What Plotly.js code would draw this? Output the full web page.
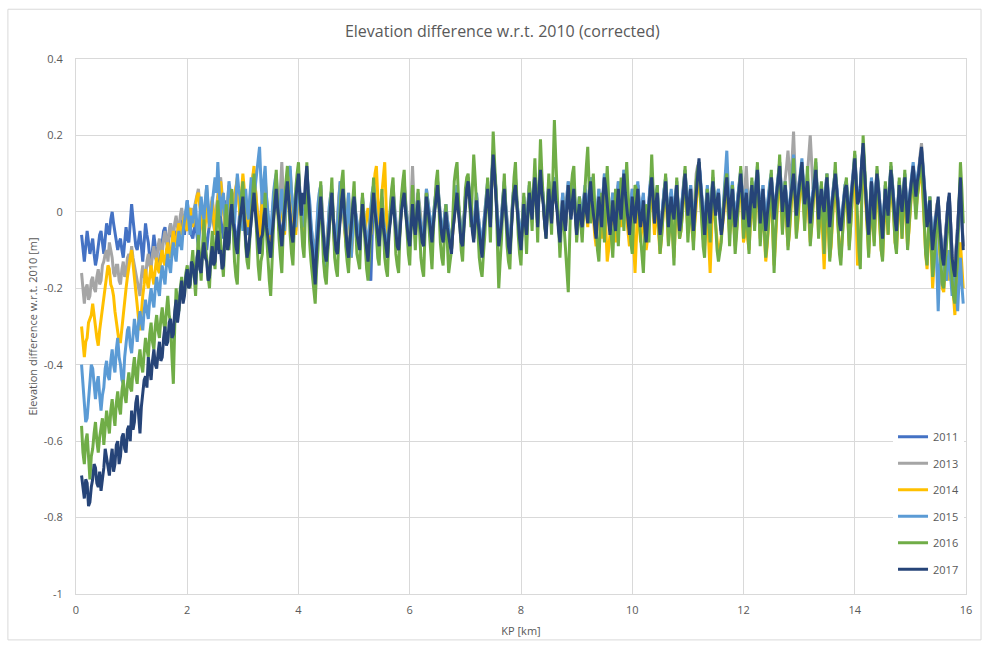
<!DOCTYPE html>
<html>
<head>
<meta charset="utf-8">
<script src="https://cdn.plot.ly/plotly-3.0.1.min.js"></script>
<style>html,body{margin:0;padding:0;background:#fff;}#chart{width:985px;height:648px;}</style>
</head>
<body>
<div id="chart"></div>
<script>
// KP sample positions (km)
var kp = [
0.1,0.15,0.2,0.25,0.3,0.35,0.4,0.45,0.5,0.55,0.6,0.65,0.7,0.75,0.8,0.85,0.9,0.95,1,1.05,
1.1,1.15,1.2,1.25,1.3,1.35,1.4,1.45,1.5,1.55,1.6,1.65,1.7,1.75,1.8,1.85,1.9,1.95,2,2.05,
2.1,2.15,2.2,2.25,2.3,2.35,2.4,2.45,2.5,2.55,2.6,2.65,2.7,2.75,2.8,2.85,2.9,2.95,3,3.05,
3.1,3.15,3.2,3.25,3.3,3.35,3.4,3.45,3.5,3.55,3.6,3.65,3.7,3.75,3.8,3.85,3.9,3.95,4,4.05,
4.1,4.15,4.2,4.25,4.3,4.35,4.4,4.45,4.5,4.55,4.6,4.65,4.7,4.75,4.8,4.85,4.9,4.95,5,5.05,
5.1,5.15,5.2,5.25,5.3,5.35,5.4,5.45,5.5,5.55,5.6,5.65,5.7,5.75,5.8,5.85,5.9,5.95,6,6.05,
6.1,6.15,6.2,6.25,6.3,6.35,6.4,6.45,6.5,6.55,6.6,6.65,6.7,6.75,6.8,6.85,6.9,6.95,7,7.05,
7.1,7.15,7.2,7.25,7.3,7.35,7.4,7.45,7.5,7.55,7.6,7.65,7.7,7.75,7.8,7.85,7.9,7.95,8,8.05,
8.1,8.15,8.2,8.25,8.3,8.35,8.4,8.45,8.5,8.55,8.6,8.65,8.7,8.75,8.8,8.85,8.9,8.95,9,9.05,
9.1,9.15,9.2,9.25,9.3,9.35,9.4,9.45,9.5,9.55,9.6,9.65,9.7,9.75,9.8,9.85,9.9,9.95,10,10.05,
10.1,10.15,10.2,10.25,10.3,10.35,10.4,10.45,10.5,10.55,10.6,10.65,10.7,10.75,10.8,10.85,10.9,10.95,11,11.05,
11.1,11.15,11.2,11.25,11.3,11.35,11.4,11.45,11.5,11.55,11.6,11.65,11.7,11.75,11.8,11.85,11.9,11.95,12,12.05,
12.1,12.15,12.2,12.25,12.3,12.35,12.4,12.45,12.5,12.55,12.6,12.65,12.7,12.75,12.8,12.85,12.9,12.95,13,13.05,
13.1,13.15,13.2,13.25,13.3,13.35,13.4,13.45,13.5,13.55,13.6,13.65,13.7,13.75,13.8,13.85,13.9,13.95,14,14.05,
14.1,14.15,14.2,14.25,14.3,14.35,14.4,14.45,14.5,14.55,14.6,14.65,14.7,14.75,14.8,14.85,14.9,14.95,15,15.05,
15.1,15.15,15.2,15.25,15.3,15.35,15.4,15.45,15.5,15.55,15.6,15.65,15.7,15.75,15.8,15.85,15.9,15.95
];
// intermediate KP sample positions (km)
var kpMid = [
0.125,0.175,0.225,0.275,0.325,0.375,0.425,0.475,0.525,0.575,0.625,0.675,0.725,0.775,0.825,0.875,0.925,0.975,1.025,1.075,
1.125,1.175,1.225,1.275,1.325,1.375,1.425,1.475,1.525,1.575,1.625,1.675,1.725,1.775,1.825,1.875,1.925,1.975,2.025,2.075,
2.125,2.175,2.225,2.275,2.325,2.375,2.425,2.475,2.525,2.575,2.625,2.675,2.725,2.775,2.825,2.875,2.925,2.975,3.025,3.075,
3.125,3.175,3.225,3.275,3.325,3.375,3.425,3.475,3.525,3.575,3.625,3.675,3.725,3.775,3.825,3.875,3.925,3.975,4.025,4.075,
4.125,4.175,4.225,4.275,4.325,4.375,4.425,4.475,4.525,4.575,4.625,4.675,4.725,4.775,4.825,4.875,4.925,4.975,5.025,5.075,
5.125,5.175,5.225,5.275,5.325,5.375,5.425,5.475,5.525,5.575,5.625,5.675,5.725,5.775,5.825,5.875,5.925,5.975,6.025,6.075,
6.125,6.175,6.225,6.275,6.325,6.375,6.425,6.475,6.525,6.575,6.625,6.675,6.725,6.775,6.825,6.875,6.925,6.975,7.025,7.075,
7.125,7.175,7.225,7.275,7.325,7.375,7.425,7.475,7.525,7.575,7.625,7.675,7.725,7.775,7.825,7.875,7.925,7.975,8.025,8.075,
8.125,8.175,8.225,8.275,8.325,8.375,8.425,8.475,8.525,8.575,8.625,8.675,8.725,8.775,8.825,8.875,8.925,8.975,9.025,9.075,
9.125,9.175,9.225,9.275,9.325,9.375,9.425,9.475,9.525,9.575,9.625,9.675,9.725,9.775,9.825,9.875,9.925,9.975,10.025,10.075,
10.125,10.175,10.225,10.275,10.325,10.375,10.425,10.475,10.525,10.575,10.625,10.675,10.725,10.775,10.825,10.875,10.925,10.975,11.025,11.075,
11.125,11.175,11.225,11.275,11.325,11.375,11.425,11.475,11.525,11.575,11.625,11.675,11.725,11.775,11.825,11.875,11.925,11.975,12.025,12.075,
12.125,12.175,12.225,12.275,12.325,12.375,12.425,12.475,12.525,12.575,12.625,12.675,12.725,12.775,12.825,12.875,12.925,12.975,13.025,13.075,
13.125,13.175,13.225,13.275,13.325,13.375,13.425,13.475,13.525,13.575,13.625,13.675,13.725,13.775,13.825,13.875,13.925,13.975,14.025,14.075,
14.125,14.175,14.225,14.275,14.325,14.375,14.425,14.475,14.525,14.575,14.625,14.675,14.725,14.775,14.825,14.875,14.925,14.975,15.025,15.075,
15.125,15.175,15.225,15.275,15.325,15.375,15.425,15.475,15.525,15.575,15.625,15.675,15.725,15.775,15.825,15.875,15.925
];

var y2011 = [
-0.06,-0.13,-0.05,-0.11,-0.07,-0.14,-0.09,-0.05,-0.11,-0.03,-0.06,0.00,-0.05,-0.10,-0.07,-0.12,-0.04,-0.08,0.02,-0.06,
-0.10,-0.05,-0.13,-0.03,-0.08,-0.14,-0.06,-0.11,-0.16,-0.07,-0.04,-0.10,-0.03,-0.08,-0.05,-0.09,-0.02,-0.06,0.03,-0.04,
-0.07,-0.02,-0.09,0.01,-0.05,-0.10,-0.03,0.02,-0.06,0.04,-0.02,-0.07,0.03,-0.03,0.05,-0.04,-0.08,0.01,0.06,-0.02,
-0.06,0.02,0.08,-0.02,-0.09,-0.03,0.04,-0.05,-0.10,0.00,0.07,-0.02,-0.07,0.02,0.09,-0.01,-0.06,0.04,0.11,0.00,
-0.05,0.06,-0.03,-0.10,-0.15,-0.04,0.05,-0.07,-0.16,-0.03,0.04,-0.08,-0.11,-0.01,0.06,-0.04,-0.11,-0.03,0.05,-0.05,
-0.09,0.03,-0.05,-0.12,-0.18,0.04,-0.03,-0.08,0.02,-0.06,-0.11,-0.01,0.05,-0.05,-0.09,0.01,0.06,-0.03,-0.08,0.03,
-0.05,0.04,-0.04,-0.08,0.05,-0.01,-0.07,0.02,0.08,-0.02,-0.07,0.01,-0.05,-0.10,-0.01,0.06,-0.03,-0.08,0.03,0.08,
0.00,-0.07,0.04,-0.04,-0.11,-0.01,0.07,-0.03,0.15,0.05,-0.08,-0.02,0.07,-0.04,-0.10,0.02,0.08,-0.02,-0.09,0.03,
-0.05,0.06,-0.01,0.09,-0.03,0.11,0.03,-0.06,0.07,-0.02,0.08,0.01,-0.07,0.04,-0.04,0.07,-0.01,0.06,-0.05,0.03,
-0.03,0.06,-0.02,0.08,0.01,-0.06,0.05,-0.03,0.09,0.03,-0.05,0.04,-0.04,0.07,-0.01,0.10,0.02,-0.05,0.05,-0.02,
0.07,-0.03,0.04,-0.07,0.03,0.09,-0.02,0.06,-0.10,0.02,0.08,-0.03,0.05,-0.01,0.07,-0.04,0.03,0.10,0.00,0.06,
-0.04,0.05,0.13,0.04,-0.05,0.06,-0.02,0.08,0.00,0.05,-0.05,0.03,0.09,-0.01,0.07,-0.03,0.04,0.10,-0.01,0.05,
-0.03,0.07,0.02,0.11,-0.02,0.06,-0.04,0.04,0.09,-0.01,0.05,0.12,0.01,0.07,-0.03,0.05,0.10,0.00,0.06,0.12,
0.03,0.08,-0.02,0.05,0.11,-0.01,0.06,0.01,0.09,-0.03,0.04,0.10,0.02,-0.04,0.03,0.07,-0.02,0.06,0.13,0.02,
0.06,0.16,0.03,-0.05,0.08,-0.01,0.10,0.01,-0.06,0.06,0.00,0.11,0.02,-0.04,0.07,0.00,0.09,-0.02,0.05,0.11,
0.04,0.10,0.16,0.06,-0.03,0.03,-0.09,-0.01,0.03,-0.07,-0.13,-0.02,0.04,-0.11,-0.16,-0.04,0.07,-0.09
];
var y2011Mid = [
-0.10,-0.09,-0.08,-0.09,-0.11,-0.12,-0.06,-0.09,-0.07,-0.05,-0.02,-0.03,-0.08,-0.08,-0.10,-0.08,-0.07,-0.03,-0.02,-0.09,
-0.07,-0.09,-0.08,-0.06,-0.12,-0.10,-0.09,-0.14,-0.11,-0.05,-0.08,-0.06,-0.06,-0.06,-0.07,-0.05,-0.04,-0.01,-0.01,-0.06,
-0.04,-0.06,-0.04,-0.03,-0.08,-0.06,-0.01,-0.03,-0.01,0.01,-0.05,-0.02,0.00,0.01,0.00,-0.07,-0.03,0.04,0.02,-0.05,
-0.01,0.05,0.03,-0.06,-0.05,0.01,-0.01,-0.08,-0.04,0.04,0.02,-0.05,-0.02,0.06,0.04,-0.04,-0.01,0.08,0.05,-0.03,
0.01,0.02,-0.07,-0.13,-0.09,0.01,-0.02,-0.12,-0.09,0.01,-0.03,-0.10,-0.05,0.03,0.01,-0.08,-0.06,0.02,0.00,-0.07,
-0.03,-0.02,-0.09,-0.16,-0.06,0.00,-0.06,-0.02,-0.03,-0.09,-0.05,0.03,0.00,-0.08,-0.03,0.04,0.01,-0.06,-0.02,-0.02,
-0.01,0.00,-0.07,-0.01,0.02,-0.05,-0.02,0.05,0.02,-0.05,-0.02,-0.03,-0.08,-0.05,0.03,0.01,-0.06,-0.02,0.06,0.03,
-0.04,-0.01,-0.01,-0.08,-0.05,0.04,0.01,0.08,0.09,-0.02,-0.06,0.03,0.01,-0.08,-0.03,0.06,0.02,-0.06,-0.03,-0.02,
0.01,0.02,0.05,0.02,0.06,0.05,-0.03,0.01,0.02,0.04,0.03,-0.04,-0.01,-0.01,0.02,0.02,0.03,0.00,-0.02,-0.01,
0.02,0.01,0.04,0.04,-0.03,0.00,0.00,0.04,0.06,-0.02,0.00,-0.01,0.02,0.02,0.05,0.05,-0.02,0.01,0.01,0.03,
0.02,0.01,-0.02,-0.02,0.07,0.03,0.03,-0.03,-0.03,0.06,0.03,0.02,0.02,0.03,0.01,0.00,0.07,0.05,0.04,0.01,
0.01,0.09,0.08,-0.01,0.01,0.02,0.03,0.04,0.03,0.00,-0.01,0.06,0.04,0.03,0.02,0.01,0.07,0.05,0.02,0.01,
0.03,0.04,0.07,0.05,0.02,0.01,0.00,0.07,0.04,0.02,0.09,0.06,0.04,0.02,0.01,0.08,0.05,0.03,0.10,0.07,
0.06,0.03,0.02,0.09,0.05,0.03,0.03,0.05,0.03,0.00,0.08,0.06,-0.02,-0.01,0.06,0.02,0.02,0.10,0.08,0.04,
0.12,0.10,-0.02,0.02,0.04,0.05,0.06,-0.03,0.00,0.03,0.06,0.07,-0.02,0.02,0.03,0.05,0.04,0.02,0.09,0.08,
0.08,0.14,0.11,0.01,0.00,-0.05,-0.05,0.01,-0.03,-0.11,-0.07,0.02,-0.05,-0.14,-0.09,0.02,-0.02
];

var y2013 = [
-0.16,-0.24,-0.19,-0.22,-0.17,-0.21,-0.15,-0.18,-0.13,-0.10,-0.08,-0.12,-0.17,-0.14,-0.19,-0.13,-0.16,-0.11,-0.09,-0.14,
-0.18,-0.22,-0.14,-0.18,-0.11,-0.15,-0.09,-0.13,-0.07,-0.11,-0.05,-0.09,-0.03,-0.07,-0.01,-0.05,0.01,-0.03,0.02,-0.02,
-0.03,0.03,0.06,-0.01,-0.06,0.07,-0.03,0.04,-0.05,0.05,0.09,0.01,-0.04,0.07,-0.01,0.05,0.08,0.00,0.06,0.02,
-0.03,0.07,0.11,0.02,-0.06,0.05,0.08,-0.02,-0.07,0.03,0.09,-0.03,0.13,-0.04,0.08,0.11,0.00,-0.05,0.06,0.01,
-0.05,0.10,0.02,-0.07,-0.10,0.01,0.07,-0.05,-0.11,0.00,0.06,-0.08,-0.02,0.08,0.03,-0.06,0.05,-0.10,0.03,-0.03,
-0.08,0.04,-0.04,-0.10,0.02,0.07,-0.01,-0.07,0.04,-0.04,-0.09,0.01,0.07,-0.03,-0.08,0.03,0.08,-0.01,-0.06,0.12,
-0.05,0.05,-0.02,-0.07,0.06,0.00,-0.06,0.03,0.08,-0.01,-0.06,0.02,-0.04,-0.09,0.01,0.07,-0.02,-0.07,0.04,0.09,
0.01,-0.06,0.05,-0.03,-0.10,0.00,0.08,-0.02,0.16,0.06,-0.07,-0.01,0.08,-0.03,-0.09,0.03,0.09,-0.01,-0.08,0.04,
-0.04,0.07,0.00,0.10,-0.02,0.12,0.04,-0.05,0.08,-0.01,0.09,0.02,-0.06,0.05,-0.03,0.08,0.00,0.07,-0.04,0.04,
-0.02,0.06,-0.01,0.09,0.02,-0.05,0.06,-0.02,0.10,0.04,-0.04,0.05,-0.03,0.08,0.00,0.11,0.03,-0.04,0.06,-0.01,
0.07,-0.03,0.04,-0.07,0.03,0.10,-0.02,0.06,-0.05,0.02,0.09,-0.03,0.05,-0.01,0.08,-0.04,0.03,0.11,0.00,0.07,
-0.04,0.10,0.13,0.04,-0.05,0.06,-0.02,0.09,0.00,0.06,-0.05,0.03,0.10,-0.01,0.07,-0.03,0.04,0.11,-0.01,0.12,
-0.03,0.08,0.02,0.11,-0.02,0.07,-0.04,0.04,0.10,-0.01,0.06,0.13,0.01,0.08,0.16,0.05,0.21,0.03,0.08,0.12,
0.04,0.10,0.20,0.06,0.12,0.00,0.07,0.01,0.10,-0.03,0.05,0.11,0.02,-0.04,0.04,0.08,-0.02,0.07,0.15,0.03,
0.06,0.17,0.04,-0.05,0.08,-0.01,0.10,0.02,-0.06,0.07,0.00,0.12,0.03,-0.04,0.08,0.01,0.10,-0.02,0.06,0.12,
0.05,0.11,0.18,0.07,-0.03,0.04,-0.09,-0.01,0.03,-0.07,-0.13,-0.02,0.04,-0.11,-0.16,-0.04,0.08,-0.09
];
var y2013Mid = [
-0.21,-0.20,-0.23,-0.18,-0.20,-0.17,-0.19,-0.14,-0.11,-0.13,-0.10,-0.16,-0.14,-0.18,-0.15,-0.17,-0.12,-0.13,-0.12,-0.17,
-0.20,-0.17,-0.17,-0.13,-0.14,-0.11,-0.12,-0.09,-0.10,-0.07,-0.08,-0.05,-0.06,-0.03,-0.04,-0.01,-0.02,0.00,-0.01,0.01,
0.01,0.05,0.02,-0.04,0.02,0.01,0.01,-0.01,0.01,0.08,0.04,-0.02,0.03,0.02,0.03,0.06,0.03,0.04,0.03,-0.01,
0.03,0.09,0.06,-0.03,0.00,0.07,0.03,-0.05,-0.01,0.07,0.02,0.06,0.05,0.03,0.10,0.05,-0.03,0.01,0.03,-0.03,
0.04,0.05,-0.04,-0.09,-0.04,0.05,0.00,-0.09,-0.05,0.04,-0.02,-0.05,0.04,0.05,-0.02,0.00,-0.04,-0.03,0.00,-0.06,
-0.01,0.00,-0.08,-0.03,0.05,0.03,-0.05,-0.01,0.00,-0.07,-0.03,0.05,0.02,-0.06,-0.02,0.06,0.03,-0.04,0.05,0.03,
0.00,0.02,-0.05,0.00,0.03,-0.04,-0.01,0.06,0.03,-0.04,-0.01,-0.02,-0.07,-0.03,0.05,0.02,-0.05,-0.01,0.07,0.04,
-0.03,0.00,0.00,-0.07,-0.04,0.05,0.02,0.09,0.10,-0.01,-0.05,0.04,0.02,-0.07,-0.02,0.07,0.03,-0.05,-0.02,-0.01,
0.02,0.03,0.06,0.03,0.07,0.07,-0.02,0.02,0.02,0.05,0.05,-0.03,0.00,0.00,0.04,0.03,0.04,0.01,0.00,0.01,
0.03,0.02,0.05,0.05,-0.02,0.01,0.01,0.05,0.07,-0.01,0.01,0.00,0.03,0.03,0.06,0.06,-0.01,0.02,0.02,0.04,
0.02,0.01,-0.02,-0.02,0.07,0.03,0.03,0.00,-0.02,0.06,0.03,0.02,0.02,0.04,0.01,0.00,0.08,0.05,0.04,0.01,
0.04,0.12,0.08,0.00,0.02,0.02,0.04,0.04,0.04,0.00,-0.01,0.07,0.05,0.04,0.02,0.01,0.08,0.05,0.06,0.05,
0.03,0.04,0.07,0.05,0.03,0.01,0.01,0.08,0.04,0.03,0.10,0.07,0.05,0.12,0.10,0.14,0.11,0.06,0.10,0.08,
0.07,0.15,0.13,0.09,0.05,0.04,0.03,0.06,0.04,0.01,0.09,0.07,-0.02,0.00,0.07,0.03,0.03,0.12,0.09,0.04,
0.13,0.11,-0.01,0.03,0.04,0.06,0.07,-0.03,0.01,0.03,0.07,0.08,-0.01,0.03,0.04,0.06,0.04,0.03,0.10,0.09,
0.09,0.15,0.13,0.01,0.00,-0.04,-0.05,0.02,-0.03,-0.11,-0.07,0.02,-0.05,-0.14,-0.09,0.03,-0.01
];

var y2014 = [
-0.30,-0.38,-0.33,-0.28,-0.24,-0.30,-0.35,-0.28,-0.22,-0.17,-0.15,-0.20,-0.26,-0.31,-0.34,-0.27,-0.20,-0.14,-0.10,-0.16,
-0.24,-0.31,-0.22,-0.15,-0.20,-0.14,-0.19,-0.12,-0.16,-0.10,-0.14,-0.08,-0.12,-0.05,-0.09,-0.03,-0.06,-0.01,-0.05,0.01,
-0.04,0.02,0.05,-0.02,-0.07,0.01,-0.04,0.03,-0.06,0.04,0.08,0.00,-0.05,0.06,-0.02,0.04,0.09,-0.01,0.10,0.03,
-0.04,0.06,0.12,0.01,-0.07,0.04,0.09,-0.03,-0.09,0.02,0.08,-0.05,0.04,-0.06,0.07,0.10,-0.01,-0.06,0.05,0.00,
-0.06,0.09,0.01,-0.09,-0.12,0.00,0.06,-0.07,-0.12,-0.01,0.05,-0.10,-0.04,0.07,0.01,-0.08,0.04,-0.12,0.02,-0.04,
-0.09,0.03,-0.05,0.01,-0.06,0.06,0.12,-0.04,0.05,0.13,-0.08,-0.01,0.05,-0.05,-0.10,0.01,0.06,-0.03,-0.08,0.03,
-0.07,0.04,-0.04,-0.08,0.05,-0.01,-0.07,0.02,0.07,-0.02,-0.07,0.01,-0.05,-0.10,-0.01,0.06,-0.03,-0.08,0.03,0.08,
0.00,-0.07,0.04,-0.04,-0.11,-0.01,0.07,-0.03,0.15,0.05,-0.08,-0.02,0.07,-0.04,-0.10,0.02,0.08,-0.02,-0.09,0.03,
-0.05,0.06,-0.01,0.09,-0.03,0.10,0.03,-0.06,0.07,-0.02,0.08,0.01,-0.07,0.04,-0.04,0.07,-0.01,0.06,-0.05,0.03,
-0.05,0.05,-0.04,0.07,-0.01,-0.09,0.03,-0.07,0.08,-0.13,-0.06,0.02,-0.08,0.05,-0.04,0.08,-0.02,-0.09,0.03,-0.16,
0.04,-0.08,0.01,-0.10,-0.02,0.07,-0.06,0.03,-0.11,-0.01,0.06,-0.08,0.02,-0.12,0.05,-0.07,-0.01,0.08,-0.05,0.03,
-0.08,0.02,0.11,-0.03,-0.09,0.03,-0.16,0.06,-0.04,-0.11,-0.07,0.00,0.07,-0.06,0.04,-0.09,0.01,0.08,-0.08,-0.02,
-0.10,0.05,-0.04,0.09,-0.07,0.02,-0.13,-0.03,0.07,-0.14,0.01,0.10,-0.05,0.05,-0.09,0.00,0.11,-0.06,0.03,0.09,
-0.03,0.06,-0.08,0.02,0.10,-0.06,0.04,-0.15,0.06,-0.12,-0.02,0.08,-0.05,-0.12,0.00,0.06,-0.09,0.03,0.12,-0.14,
-0.10,0.15,0.02,-0.11,0.05,-0.08,0.09,-0.05,-0.12,0.05,-0.06,0.10,-0.01,-0.10,0.06,-0.07,0.08,-0.09,0.02,0.09,
0.00,0.07,0.12,-0.05,-0.15,0.02,-0.20,-0.09,0.01,-0.17,-0.21,-0.10,-0.18,-0.12,-0.27,-0.15,-0.08,-0.20
];
var y2014Mid = [
-0.35,-0.34,-0.29,-0.27,-0.28,-0.33,-0.31,-0.25,-0.20,-0.14,-0.19,-0.22,-0.29,-0.34,-0.30,-0.24,-0.17,-0.12,-0.14,-0.21,
-0.28,-0.26,-0.19,-0.18,-0.17,-0.17,-0.15,-0.15,-0.12,-0.13,-0.10,-0.11,-0.08,-0.08,-0.05,-0.05,-0.03,-0.04,-0.01,-0.02,
-0.01,0.04,0.02,-0.05,-0.03,-0.02,0.00,-0.02,0.00,0.06,0.03,-0.03,0.01,0.02,0.01,0.07,0.03,0.05,0.06,-0.01,
0.02,0.09,0.06,-0.04,-0.01,0.07,0.03,-0.07,-0.03,0.06,0.01,0.00,-0.02,0.01,0.09,0.04,-0.04,0.00,0.03,-0.04,
0.03,0.04,-0.05,-0.11,-0.06,0.04,-0.01,-0.10,-0.06,0.03,-0.03,-0.07,0.02,0.03,-0.04,-0.02,-0.05,-0.06,-0.01,-0.07,
-0.02,-0.02,-0.01,-0.03,0.01,0.10,0.05,0.01,0.10,0.02,-0.05,0.03,0.00,-0.08,-0.04,0.04,0.01,-0.06,-0.02,-0.03,
-0.01,0.00,-0.07,-0.01,0.02,-0.05,-0.02,0.05,0.02,-0.05,-0.02,-0.03,-0.08,-0.05,0.03,0.01,-0.06,-0.02,0.06,0.03,
-0.04,-0.01,-0.01,-0.08,-0.05,0.04,0.01,0.08,0.09,-0.02,-0.06,0.03,0.01,-0.08,-0.03,0.06,0.02,-0.06,-0.03,-0.02,
0.01,0.02,0.05,0.02,0.06,0.05,-0.03,0.01,0.02,0.04,0.03,-0.04,-0.01,-0.01,0.02,0.02,0.03,0.00,-0.02,-0.02,
0.00,0.00,0.03,0.02,-0.06,-0.03,-0.03,0.02,-0.04,-0.10,-0.02,-0.04,-0.02,0.00,0.03,0.02,-0.06,-0.04,-0.08,-0.07,
-0.03,-0.04,-0.06,-0.07,0.04,0.00,-0.02,-0.06,-0.07,0.03,-0.02,-0.04,-0.06,-0.04,-0.02,-0.05,0.05,0.01,-0.02,-0.05,
-0.03,0.07,0.04,-0.07,-0.04,-0.08,-0.06,0.00,-0.09,-0.10,-0.03,0.05,0.00,-0.03,-0.03,-0.05,0.05,0.00,-0.06,-0.07,
-0.03,0.00,0.03,0.01,-0.03,-0.06,-0.09,0.03,-0.05,-0.08,0.06,0.02,0.01,-0.03,-0.06,0.06,0.03,-0.03,0.07,0.02,
0.02,-0.02,-0.04,0.07,0.02,-0.02,-0.07,-0.05,-0.04,-0.09,0.04,0.01,-0.10,-0.06,0.04,-0.03,-0.04,0.09,-0.03,-0.13,
0.04,0.08,-0.06,-0.04,-0.03,0.01,0.02,-0.10,-0.04,-0.01,0.04,0.03,-0.08,-0.03,0.00,0.02,-0.03,-0.05,0.06,0.04,
0.04,0.10,0.04,-0.11,-0.08,-0.10,-0.14,-0.03,-0.10,-0.20,-0.14,-0.15,-0.14,-0.22,-0.20,-0.11,-0.15
];

var y2015 = [
-0.40,-0.50,-0.54,-0.45,-0.41,-0.49,-0.43,-0.52,-0.46,-0.39,-0.44,-0.36,-0.42,-0.33,-0.40,-0.45,-0.34,-0.30,-0.37,-0.28,
-0.34,-0.26,-0.31,-0.23,-0.28,-0.20,-0.25,-0.17,-0.22,-0.14,-0.19,-0.11,-0.16,-0.08,-0.13,-0.05,-0.10,-0.02,0.03,-0.06,
-0.03,0.02,-0.08,0.04,-0.02,0.07,-0.04,0.02,0.09,0.13,-0.01,0.05,-0.06,0.08,0.03,-0.03,0.10,0.04,-0.05,0.06,
-0.02,0.09,0.03,0.10,0.17,0.02,0.12,-0.01,-0.06,0.05,0.10,-0.03,0.06,-0.05,0.09,0.12,0.01,-0.04,0.07,0.02,
-0.04,0.11,0.03,-0.08,-0.13,0.02,0.07,-0.06,-0.14,0.01,0.06,-0.09,-0.03,0.08,0.02,-0.07,0.05,-0.12,0.03,-0.02,
-0.08,0.04,-0.04,-0.11,0.01,0.07,-0.02,-0.08,0.03,-0.05,-0.10,0.00,0.06,-0.04,-0.09,0.02,0.07,-0.02,-0.07,0.04,
-0.04,0.05,-0.03,-0.07,0.06,0.00,-0.06,0.03,0.08,-0.01,-0.06,0.02,-0.04,-0.09,0.00,0.07,-0.02,-0.07,0.04,0.09,
0.01,-0.06,0.05,-0.03,-0.10,0.00,0.08,-0.02,0.16,0.06,-0.07,-0.01,0.08,-0.03,-0.09,0.03,0.09,-0.01,-0.08,0.04,
-0.04,0.07,0.00,0.10,-0.02,0.12,0.04,-0.05,0.08,-0.01,0.09,0.02,-0.06,0.05,-0.03,0.08,0.00,0.07,-0.04,0.04,
-0.02,0.07,-0.01,0.09,0.02,-0.05,0.06,-0.02,0.10,0.04,-0.04,0.05,-0.03,0.08,0.00,0.11,0.03,-0.04,0.06,-0.01,
0.08,-0.03,0.05,-0.07,0.04,0.10,-0.02,0.07,-0.09,0.03,0.09,-0.03,0.06,-0.01,0.08,-0.04,0.04,0.11,0.00,0.07,
-0.04,0.06,0.13,0.05,-0.05,0.07,-0.02,0.09,0.00,0.06,-0.05,0.04,0.16,-0.01,0.08,-0.03,0.05,0.11,-0.01,0.06,
-0.03,0.08,0.02,0.12,-0.02,0.07,-0.04,0.05,0.10,-0.01,0.06,0.13,0.02,0.08,-0.03,0.05,0.15,0.00,0.07,0.14,
0.03,0.09,-0.02,0.06,0.13,-0.01,0.07,0.01,0.10,-0.03,0.05,0.11,0.02,-0.04,0.04,0.08,-0.02,0.07,0.15,0.03,
0.07,0.17,0.04,-0.05,0.09,-0.01,0.11,0.02,-0.06,0.07,0.00,0.12,0.03,-0.04,0.08,0.01,0.10,-0.02,0.06,0.13,
0.05,0.11,0.16,0.07,-0.03,0.04,-0.09,-0.01,-0.26,-0.07,-0.13,-0.18,-0.10,-0.22,-0.15,-0.26,-0.12,-0.24
];
var y2015Mid = [
-0.46,-0.55,-0.49,-0.40,-0.46,-0.45,-0.48,-0.48,-0.41,-0.43,-0.39,-0.40,-0.36,-0.38,-0.44,-0.38,-0.31,-0.35,-0.32,-0.31,
-0.29,-0.29,-0.26,-0.26,-0.23,-0.23,-0.20,-0.20,-0.17,-0.17,-0.14,-0.14,-0.11,-0.11,-0.08,-0.08,-0.05,0.00,-0.02,-0.01,
0.00,-0.04,-0.01,0.00,0.03,0.02,-0.01,0.06,0.05,0.05,0.03,-0.01,0.02,0.05,0.00,0.04,0.06,-0.01,0.02,0.01,
0.04,0.05,0.07,0.13,0.08,0.08,0.04,-0.04,0.00,0.08,0.03,0.02,0.00,0.03,0.11,0.05,-0.02,0.02,0.04,-0.02,
0.05,0.06,-0.03,-0.11,-0.05,0.05,0.00,-0.11,-0.05,0.04,-0.02,-0.06,0.03,0.04,-0.03,-0.01,-0.04,-0.05,0.00,-0.05,
-0.01,-0.01,-0.08,-0.04,0.05,0.02,-0.06,-0.02,-0.02,-0.08,-0.04,0.04,0.01,-0.07,-0.03,0.05,0.02,-0.05,-0.01,-0.01,
0.01,0.00,-0.06,0.00,0.03,-0.04,-0.01,0.06,0.03,-0.04,-0.01,-0.02,-0.07,-0.04,0.04,0.02,-0.05,-0.01,0.07,0.04,
-0.03,0.00,0.00,-0.07,-0.04,0.05,0.02,0.09,0.10,-0.01,-0.05,0.04,0.02,-0.07,-0.02,0.07,0.03,-0.05,-0.02,-0.01,
0.02,0.03,0.06,0.03,0.07,0.07,-0.02,0.02,0.02,0.05,0.05,-0.03,0.00,0.00,0.04,0.03,0.04,0.01,0.00,0.01,
0.03,0.02,0.05,0.05,-0.02,0.01,0.01,0.05,0.07,-0.01,0.01,0.00,0.03,0.03,0.06,0.06,-0.01,0.02,0.02,0.04,
0.02,0.02,-0.02,-0.02,0.08,0.03,0.04,-0.02,-0.02,0.06,0.03,0.02,0.02,0.04,0.01,0.00,0.08,0.05,0.04,0.01,
0.02,0.10,0.09,0.00,0.02,0.02,0.04,0.04,0.04,0.00,-0.01,0.10,0.07,0.04,0.02,0.01,0.08,0.05,0.03,0.01,
0.03,0.04,0.08,0.05,0.03,0.01,0.01,0.08,0.04,0.03,0.10,0.07,0.05,0.02,0.02,0.10,0.07,0.04,0.11,0.08,
0.06,0.04,0.02,0.10,0.06,0.04,0.03,0.06,0.04,0.01,0.09,0.07,-0.02,0.00,0.07,0.03,0.03,0.12,0.09,0.04,
0.13,0.11,-0.01,0.03,0.04,0.06,0.07,-0.03,0.01,0.03,0.07,0.08,-0.01,0.03,0.04,0.06,0.04,0.03,0.10,0.09,
0.09,0.14,0.12,0.01,0.00,-0.05,-0.05,-0.14,-0.15,-0.11,-0.17,-0.13,-0.17,-0.18,-0.21,-0.18,-0.19
];

var y2016 = [
-0.56,-0.66,-0.58,-0.70,-0.62,-0.55,-0.63,-0.57,-0.61,-0.52,-0.58,-0.49,-0.56,-0.47,-0.53,-0.44,-0.50,-0.42,-0.47,-0.38,
-0.45,-0.36,-0.42,-0.33,-0.38,-0.29,-0.36,-0.27,-0.33,-0.25,-0.31,-0.22,-0.29,-0.45,-0.20,-0.26,-0.17,-0.22,-0.14,-0.20,
-0.10,-0.22,-0.06,-0.18,-0.02,-0.12,-0.20,-0.05,-0.15,0.03,-0.08,-0.17,0.02,-0.10,0.06,-0.13,-0.19,-0.01,0.08,-0.09,
-0.15,-0.02,0.10,-0.08,-0.18,-0.11,0.05,-0.13,-0.22,-0.04,0.11,-0.07,-0.16,0.03,0.12,-0.06,-0.14,0.06,0.13,-0.05,
-0.12,0.13,-0.08,-0.17,-0.24,-0.10,0.08,-0.13,-0.19,-0.06,0.09,-0.12,-0.17,0.03,0.11,-0.09,-0.16,-0.02,0.08,-0.11,
-0.15,0.05,-0.10,-0.18,-0.06,0.09,-0.08,-0.14,0.06,-0.12,-0.17,0.02,0.09,-0.11,-0.16,0.04,0.11,-0.07,-0.14,0.07,
-0.10,0.06,-0.12,-0.17,0.05,-0.06,-0.15,0.03,0.11,-0.08,-0.14,0.02,-0.16,-0.10,0.08,0.13,-0.05,-0.13,0.06,0.10,
-0.04,0.15,0.02,-0.12,-0.17,-0.06,0.09,-0.08,0.21,0.06,-0.20,-0.07,0.10,-0.09,-0.15,0.04,0.13,-0.06,-0.14,0.05,
-0.11,0.08,-0.05,0.14,-0.08,0.19,0.03,-0.07,0.10,-0.06,0.24,0.05,-0.12,0.02,-0.09,-0.21,0.06,0.12,-0.08,0.04,
-0.08,0.07,0.17,-0.03,0.10,-0.06,-0.13,0.05,-0.08,0.12,-0.02,-0.12,0.06,-0.09,0.09,-0.05,0.13,-0.03,-0.11,0.07,
0.04,-0.06,-0.16,0.02,-0.08,0.15,-0.03,0.07,-0.11,-0.02,0.10,-0.09,0.03,-0.14,0.09,-0.07,-0.01,0.12,-0.08,0.05,
-0.10,0.08,0.13,-0.04,-0.12,0.06,-0.08,0.11,-0.05,-0.13,-0.08,0.04,0.10,-0.09,0.07,-0.11,0.01,0.12,-0.07,0.03,
-0.11,0.09,-0.05,0.13,-0.09,0.04,-0.12,-0.03,0.11,-0.16,0.02,0.15,-0.06,0.08,-0.10,0.01,0.14,-0.07,0.05,0.10,
-0.05,0.12,-0.09,0.03,0.14,-0.07,0.08,-0.11,0.10,-0.13,-0.02,0.13,-0.06,-0.14,0.02,0.09,-0.10,0.04,0.16,-0.03,
-0.15,0.20,0.05,-0.12,0.07,-0.09,0.12,-0.04,-0.13,0.08,-0.06,0.13,-0.02,-0.11,0.09,-0.07,0.11,-0.10,0.03,0.10,
-0.02,0.08,0.15,-0.05,-0.14,0.04,-0.17,-0.08,0.02,-0.15,-0.20,-0.09,0.03,-0.18,-0.24,-0.12,0.13,-0.03
];
var y2016Mid = [
-0.63,-0.60,-0.66,-0.64,-0.58,-0.60,-0.59,-0.54,-0.56,-0.55,-0.52,-0.53,-0.50,-0.51,-0.47,-0.48,-0.45,-0.46,-0.41,-0.43,
-0.39,-0.40,-0.37,-0.36,-0.32,-0.34,-0.30,-0.31,-0.28,-0.29,-0.26,-0.27,-0.38,-0.30,-0.24,-0.20,-0.21,-0.16,-0.19,-0.14,
-0.17,-0.13,-0.13,-0.09,-0.09,-0.17,-0.11,-0.12,-0.04,-0.03,-0.14,-0.06,-0.05,-0.01,-0.04,-0.17,-0.08,0.04,-0.01,-0.13,
-0.07,0.05,0.01,-0.14,-0.13,-0.02,-0.06,-0.18,-0.12,0.05,0.01,-0.12,-0.05,0.08,0.02,-0.11,-0.03,0.10,0.03,-0.09,
0.02,0.03,-0.13,-0.21,-0.15,-0.01,-0.04,-0.17,-0.11,0.02,-0.02,-0.15,-0.06,0.08,0.00,-0.13,-0.08,0.04,-0.03,-0.13,
-0.04,-0.03,-0.15,-0.11,0.02,0.00,-0.12,-0.03,-0.04,-0.15,-0.06,0.06,-0.02,-0.14,-0.05,0.08,0.01,-0.11,-0.02,-0.02,
-0.01,-0.04,-0.15,-0.05,0.00,-0.11,-0.05,0.08,0.02,-0.12,-0.05,-0.08,-0.13,-0.01,0.11,0.04,-0.10,-0.03,0.09,0.03,
0.06,0.09,-0.06,-0.15,-0.11,0.02,0.00,0.08,0.13,-0.08,-0.13,0.03,0.00,-0.13,-0.05,0.09,0.03,-0.11,-0.04,-0.03,
-0.01,0.02,0.06,0.03,0.07,0.10,-0.03,0.02,0.01,0.10,0.14,-0.05,-0.04,-0.04,-0.15,-0.07,0.10,0.02,-0.03,-0.03,
0.00,0.12,0.06,0.05,0.02,-0.10,-0.04,-0.02,0.03,0.04,-0.08,-0.03,-0.02,0.01,0.02,0.05,0.05,-0.08,-0.02,0.06,
-0.02,-0.12,-0.06,-0.04,0.05,0.06,0.03,-0.03,-0.07,0.05,0.01,-0.04,-0.06,-0.02,0.01,-0.05,0.06,0.02,-0.02,-0.03,
-0.01,0.11,0.04,-0.09,-0.03,-0.02,0.02,0.03,-0.10,-0.10,-0.02,0.08,0.00,-0.01,-0.03,-0.06,0.07,0.03,-0.03,-0.05,
-0.01,0.02,0.05,0.02,-0.03,-0.05,-0.08,0.05,-0.04,-0.06,0.09,0.05,0.02,-0.02,-0.05,0.08,0.04,-0.02,0.08,0.03,
0.04,0.02,-0.04,0.09,0.04,0.01,-0.02,0.00,-0.02,-0.08,0.06,0.04,-0.11,-0.07,0.06,0.00,-0.04,0.11,0.07,-0.10,
0.03,0.13,-0.05,-0.03,-0.02,0.02,0.05,-0.10,-0.03,0.02,0.04,0.06,-0.08,-0.02,0.02,0.03,0.00,-0.04,0.07,0.05,
0.04,0.12,0.06,-0.11,-0.06,-0.08,-0.13,-0.02,-0.08,-0.19,-0.14,-0.04,-0.09,-0.22,-0.17,0.02,0.06
];

var y2017 = [
-0.69,-0.75,-0.71,-0.76,-0.70,-0.67,-0.72,-0.73,-0.67,-0.64,-0.69,-0.62,-0.66,-0.60,-0.64,-0.58,-0.63,-0.56,-0.52,-0.55,
-0.48,-0.58,-0.47,-0.43,-0.38,-0.44,-0.36,-0.41,-0.34,-0.38,-0.30,-0.34,-0.28,-0.32,-0.23,-0.26,-0.18,-0.22,-0.15,-0.19,
-0.14,-0.19,-0.10,-0.16,-0.08,-0.13,-0.17,-0.09,-0.13,-0.05,-0.10,-0.14,-0.04,-0.08,0.02,-0.05,-0.11,-0.02,0.04,-0.06,
-0.10,-0.03,0.05,-0.04,-0.11,-0.06,0.01,-0.07,-0.12,-0.02,0.06,-0.03,-0.09,0.00,0.08,-0.02,-0.08,0.03,0.10,-0.01,
0.02,0.12,-0.03,-0.10,-0.19,-0.06,0.04,-0.08,-0.13,-0.04,0.05,-0.07,-0.11,-0.02,0.06,-0.05,-0.12,-0.03,0.04,-0.06,
-0.10,0.02,-0.06,-0.13,-0.04,0.05,-0.03,-0.09,0.01,-0.07,-0.12,-0.02,0.04,-0.06,-0.10,0.00,0.05,-0.04,-0.09,0.02,
-0.06,0.03,-0.05,-0.09,0.04,-0.02,-0.08,0.01,0.07,-0.03,-0.08,0.00,-0.06,-0.11,-0.02,0.05,-0.04,-0.09,0.02,0.08,
-0.01,-0.08,0.03,-0.05,-0.12,-0.02,0.06,-0.04,0.15,0.04,-0.09,-0.03,0.06,-0.05,-0.11,0.01,0.07,-0.03,-0.10,0.02,
-0.06,0.05,-0.02,0.09,-0.04,0.11,0.02,-0.07,0.06,-0.03,0.08,0.00,-0.08,0.03,-0.05,0.07,-0.02,0.06,-0.06,0.02,
-0.04,0.05,-0.03,0.08,0.00,-0.07,0.04,-0.04,0.09,0.02,-0.06,0.03,-0.05,0.06,-0.02,0.10,0.01,-0.06,0.04,-0.03,
0.06,-0.04,0.03,-0.08,0.02,0.09,-0.03,0.05,-0.06,0.01,0.08,-0.04,0.04,-0.02,0.07,-0.05,0.02,0.10,-0.01,0.06,
-0.05,0.04,0.14,0.03,-0.06,0.05,-0.03,0.08,-0.01,0.05,-0.06,0.02,0.09,-0.02,0.06,-0.04,0.03,0.10,-0.02,0.05,
-0.04,0.07,0.01,0.11,-0.03,0.06,-0.05,0.03,0.09,-0.02,0.05,0.12,0.00,0.07,-0.04,0.04,0.10,-0.01,0.06,0.13,
0.02,0.08,-0.03,0.05,0.11,-0.02,0.06,0.00,0.09,-0.04,0.04,0.10,0.01,-0.05,0.03,0.07,-0.03,0.06,0.14,0.02,
0.06,0.18,0.03,-0.06,0.08,-0.02,0.10,0.01,-0.07,0.06,-0.01,0.11,0.02,-0.05,0.07,0.00,0.09,-0.03,0.05,0.12,
0.04,0.10,0.17,0.06,-0.04,0.03,-0.10,-0.02,0.04,-0.08,-0.14,-0.03,0.05,-0.12,-0.17,-0.05,0.09,-0.10
];
var y2017Mid = [
-0.73,-0.70,-0.77,-0.72,-0.66,-0.71,-0.68,-0.70,-0.62,-0.67,-0.65,-0.68,-0.61,-0.66,-0.59,-0.62,-0.57,-0.60,-0.57,-0.50,
-0.53,-0.51,-0.44,-0.46,-0.42,-0.39,-0.40,-0.37,-0.39,-0.33,-0.35,-0.29,-0.33,-0.26,-0.29,-0.21,-0.24,-0.17,-0.20,-0.13,
-0.17,-0.12,-0.15,-0.11,-0.12,-0.18,-0.12,-0.14,-0.08,-0.11,-0.15,-0.07,-0.10,-0.01,-0.03,-0.09,-0.05,0.01,-0.02,-0.12,
-0.06,0.02,0.00,-0.09,-0.07,-0.02,-0.04,-0.10,-0.06,0.03,0.01,-0.07,-0.04,0.05,0.03,-0.06,-0.01,0.07,0.04,0.05,
0.08,0.05,-0.07,-0.15,-0.10,-0.01,-0.02,-0.11,-0.07,0.01,-0.02,-0.10,-0.05,0.03,0.00,-0.09,-0.07,0.01,-0.01,-0.08,
-0.03,-0.03,-0.10,-0.08,0.01,0.00,-0.07,-0.03,-0.04,-0.10,-0.06,0.02,-0.01,-0.09,-0.04,0.03,0.00,-0.07,-0.03,-0.03,
-0.01,-0.02,-0.08,-0.01,0.01,-0.06,-0.03,0.05,0.02,-0.06,-0.03,-0.04,-0.09,-0.05,0.02,0.00,-0.08,-0.03,0.06,0.03,
-0.05,-0.02,-0.02,-0.09,-0.06,0.03,0.01,0.08,0.10,-0.03,-0.06,0.02,0.00,-0.09,-0.04,0.05,0.02,-0.07,-0.03,-0.03,
0.00,0.01,0.05,0.02,0.06,0.05,-0.03,0.00,0.01,0.04,0.03,-0.05,-0.01,-0.02,0.02,0.01,0.03,-0.01,-0.01,-0.02,
0.01,0.00,0.04,0.03,-0.04,-0.01,0.00,0.04,0.06,-0.03,-0.02,-0.02,0.01,0.01,0.05,0.05,-0.04,-0.01,0.00,0.02,
0.00,-0.01,-0.04,-0.03,0.06,0.03,0.02,-0.02,-0.03,0.05,0.02,0.01,0.00,0.03,0.01,-0.02,0.07,0.04,0.03,0.00,
0.00,0.10,0.08,-0.02,0.00,0.01,0.03,0.03,0.03,-0.02,-0.03,0.06,0.04,0.03,0.01,-0.01,0.07,0.05,0.02,0.00,
0.02,0.03,0.07,0.04,0.02,0.00,-0.01,0.07,0.04,0.02,0.09,0.06,0.04,0.02,0.01,0.08,0.05,0.03,0.10,0.07,
0.05,0.03,0.01,0.09,0.05,0.03,0.02,0.05,0.03,0.00,0.08,0.06,-0.03,-0.01,0.06,0.02,0.02,0.11,0.08,0.03,
0.13,0.11,-0.02,0.02,0.03,0.05,0.06,-0.04,0.00,0.02,0.06,0.07,-0.02,0.02,0.03,0.05,0.03,0.02,0.09,0.08,
0.08,0.14,0.12,0.00,-0.01,-0.05,-0.06,0.02,-0.03,-0.12,-0.08,0.02,-0.05,-0.15,-0.10,0.03,-0.02
];

var seriesNames = ["2011", "2013", "2014", "2015", "2016", "2017"];
var seriesValues = [y2011, y2013, y2014, y2015, y2016, y2017];
var seriesMidValues = [y2011Mid, y2013Mid, y2014Mid, y2015Mid, y2016Mid, y2017Mid];
var seriesColors = ["#4472C4", "#A5A5A5", "#FFC000", "#5B9BD5", "#70AD47", "#264478"];

var xTicks = [0, 2, 4, 6, 8, 10, 12, 14, 16];
var yTicks = [-1, -0.8, -0.6, -0.4, -0.2, 0, 0.2, 0.4];
var yTickText = ["-1", "-0.8", "-0.6", "-0.4", "-0.2", "0", "0.2", "0.4"];

var textColor = "#595959";
var gridColor = "#D9D9D9";
var fontFam = "'Open Sans', 'Liberation Sans', sans-serif";

// merge the two sample sets of each series into one ordered table
function mergeSeries(main, mid) {
  var xs = [], ys = [];
  for (var i = 0; i < kp.length; i++) {
    xs.push(kp[i]); ys.push(main[i]);
    if (i < kpMid.length && mid[i] !== undefined) { xs.push(kpMid[i]); ys.push(mid[i]); }
  }
  return { x: xs, y: ys };
}

var traces = seriesNames.map(function (name, i) {
  var d = mergeSeries(seriesValues[i], seriesMidValues[i]);
  return {
    type: "scatter",
    mode: "lines",
    name: name,
    legendgroup: name,
    x: d.x,
    y: d.y,
    line: { color: seriesColors[i], width: 3 },
    hoverinfo: "skip"
  };
});

var layout = {
  width: 985,
  height: 648,
  margin: { l: 76, r: 19, t: 59, b: 54 },
  paper_bgcolor: "#ffffff",
  plot_bgcolor: "#ffffff",
  font: { family: fontFam, color: textColor, size: 11 },
  title: {
    text: "Elevation difference w.r.t. 2010 (corrected)",
    font: { family: fontFam, size: 16, color: textColor },
    xref: "container", x: 0.51, xanchor: "center",
    yref: "container", y: 0.952, yanchor: "middle"
  },
  xaxis: {
    range: [0, 16],
    tickvals: xTicks,
    showgrid: true,
    gridcolor: gridColor,
    gridwidth: 1,
    zeroline: false,
    showline: true,
    linecolor: gridColor,
    linewidth: 1,
    mirror: true,
    ticks: "",
    ticklabelstandoff: 6,
    tickfont: { size: 11, color: textColor },
    title: { text: "KP [km]", font: { size: 11, color: textColor }, standoff: 11 }
  },
  yaxis: {
    range: [-1, 0.4],
    tickvals: yTicks,
    ticktext: yTickText,
    showgrid: true,
    gridcolor: gridColor,
    gridwidth: 1,
    zeroline: false,
    showline: true,
    linecolor: gridColor,
    linewidth: 1,
    mirror: true,
    ticks: "",
    ticklabelstandoff: 10,
    tickfont: { size: 11, color: textColor },
    title: { text: "Elevation difference w.r.t. 2010 [m]", font: { size: 11, color: textColor }, standoff: 3 }
  },
  legend: {
    x: 0.918, xanchor: "left",
    y: 0.321, yanchor: "top",
    bgcolor: "#ffffff",
    borderwidth: 0,
    tracegroupgap: 7.5,
    font: { size: 11, color: textColor }
  },
  shapes: [
    {
      type: "rect", xref: "paper", yref: "paper",
      x0: -0.0765, x1: 1.0169, y0: -0.0858, y1: 1.093,
      line: { color: gridColor, width: 1 },
      fillcolor: "rgba(0,0,0,0)",
      layer: "below"
    }
  ],
  showlegend: true
};

Plotly.newPlot("chart", traces, layout, { displayModeBar: false, staticPlot: true });
</script>
</body>
</html>
